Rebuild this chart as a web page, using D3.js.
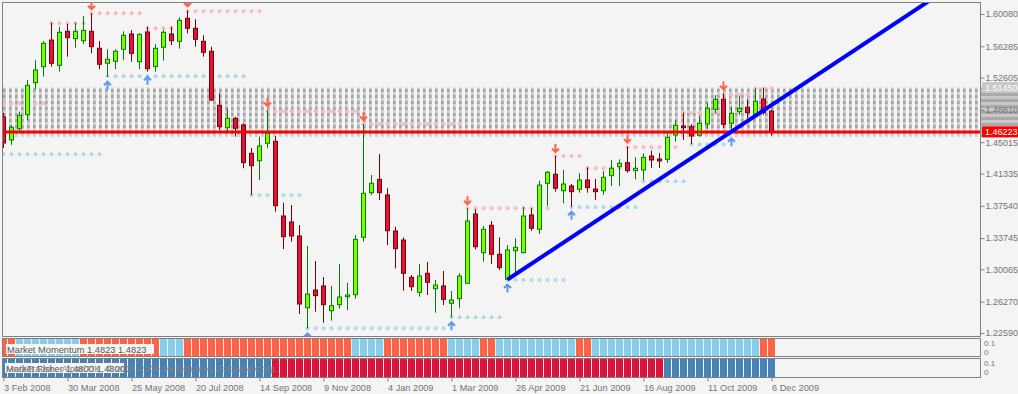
<!DOCTYPE html>
<html>
<head>
<meta charset="utf-8">
<script src="https://cdn.jsdelivr.net/npm/d3@7"></script>
<style>
  body { margin: 0; background: #f4f4f4; }
  svg { display: block; font-family: "Liberation Sans", Arial, sans-serif; }
</style>
</head>
<body>
<div id="chart"></div>
<script>
// weekly EURUSD candles, 3 Feb 2008 .. 6 Dec 2009 (index = week)
const opens = [
  1.4798, 1.4527, 1.4660, 1.4825, 1.5201, 1.5389, 1.5702, 1.5405, 1.5805, 1.5718,
  1.5694, 1.5805, 1.5605, 1.5429, 1.5452, 1.5593, 1.5773, 1.5447, 1.5797, 1.5389,
  1.5617, 1.5773, 1.5687, 1.5958, 1.5840, 1.5687, 1.5570, 1.4935, 1.4672, 1.4782,
  1.4704, 1.4371, 1.4284, 1.4489, 1.4512, 1.3634, 1.3564, 1.3399, 1.2556, 1.2764,
  1.2812, 1.2521, 1.2592, 1.2686, 1.2709, 1.3384, 1.3908, 1.4065, 1.3881, 1.3458,
  1.3352, 1.2914, 1.2737, 1.2961, 1.2780, 1.2812, 1.2608, 1.2662, 1.2843, 1.3658,
  1.3203, 1.3525, 1.3184, 1.2890, 1.3226, 1.3203, 1.3646, 1.3478, 1.4018, 1.4124,
  1.3931, 1.3987, 1.3948, 1.4057, 1.3951, 1.3931, 1.4108, 1.4214, 1.4261, 1.4167,
  1.4175, 1.4339, 1.4304, 1.4300, 1.4586, 1.4692, 1.4684, 1.4583, 1.4715, 1.4888,
  1.5006, 1.4724, 1.4860, 1.4912, 1.4833, 1.5009, 1.4868
];
const highs = [
  1.4845, 1.4704, 1.4860, 1.5232, 1.5467, 1.5691, 1.5906, 1.5859, 1.5891, 1.5906,
  1.5985, 1.6016, 1.5691, 1.5593, 1.5593, 1.5805, 1.5820, 1.5781, 1.5859, 1.5655,
  1.5820, 1.5859, 1.5969, 1.6050, 1.5946, 1.5758, 1.5624, 1.5076, 1.4900, 1.4801,
  1.4724, 1.4433, 1.4566, 1.4880, 1.4574, 1.3790, 1.3763, 1.3528, 1.3282, 1.3105,
  1.2917, 1.2812, 1.3070, 1.2850, 1.3411, 1.4715, 1.4116, 1.4363, 1.3960, 1.3508,
  1.3384, 1.2941, 1.3070, 1.3094, 1.2882, 1.2988, 1.2753, 1.2961, 1.3725, 1.3715,
  1.3517, 1.3575, 1.3384, 1.3293, 1.3372, 1.3743, 1.3725, 1.4049, 1.4163, 1.4339,
  1.4175, 1.4010, 1.4136, 1.4206, 1.4069, 1.4163, 1.4292, 1.4300, 1.4449, 1.4324,
  1.4371, 1.4402, 1.4375, 1.4625, 1.4762, 1.4848, 1.4715, 1.4809, 1.4966, 1.5056,
  1.5076, 1.4919, 1.5044, 1.5006, 1.5135, 1.5135, 1.4880
];
const lows = [
  1.4433, 1.4469, 1.4606, 1.4762, 1.5123, 1.5271, 1.5389, 1.5330, 1.5506, 1.5612,
  1.5655, 1.5546, 1.5358, 1.5271, 1.5358, 1.5467, 1.5447, 1.5358, 1.5330, 1.5330,
  1.5459, 1.5644, 1.5600, 1.5781, 1.5624, 1.5506, 1.4986, 1.4645, 1.4613, 1.4566,
  1.4195, 1.3881, 1.4057, 1.4430, 1.3685, 1.3246, 1.3332, 1.2482, 1.2314, 1.2509,
  1.2380, 1.2404, 1.2545, 1.2529, 1.2662, 1.3332, 1.3881, 1.3822, 1.3293, 1.3019,
  1.2756, 1.2753, 1.2686, 1.2706, 1.2498, 1.2588, 1.2444, 1.2549, 1.2835, 1.3243,
  1.3097, 1.3070, 1.3000, 1.2887, 1.2961, 1.3195, 1.3458, 1.3423, 1.3752, 1.3920,
  1.3783, 1.3743, 1.3908, 1.3908, 1.3822, 1.3884, 1.3987, 1.3987, 1.4143, 1.4065,
  1.4057, 1.4198, 1.4198, 1.4257, 1.4507, 1.4527, 1.4480, 1.4566, 1.4657, 1.4841,
  1.4665, 1.4606, 1.4821, 1.4782, 1.4801, 1.4821, 1.4578
];
const closes = [
  1.4492, 1.4677, 1.4818, 1.5170, 1.5350, 1.5664, 1.5429, 1.5793, 1.5730, 1.5805,
  1.5816, 1.5624, 1.5417, 1.5476, 1.5570, 1.5758, 1.5546, 1.5769, 1.5365, 1.5605,
  1.5793, 1.5694, 1.5934, 1.5840, 1.5711, 1.5558, 1.4997, 1.4684, 1.4782, 1.4665,
  1.4261, 1.4225, 1.4457, 1.4606, 1.3755, 1.3391, 1.3399, 1.2600, 1.2717, 1.2698,
  1.2592, 1.2580, 1.2682, 1.2706, 1.3360, 1.3901, 1.4018, 1.3908, 1.3461, 1.3250,
  1.2961, 1.2803, 1.2929, 1.2855, 1.2823, 1.2655, 1.2647, 1.2929, 1.3575, 1.3273,
  1.3478, 1.3184, 1.3027, 1.3235, 1.3266, 1.3634, 1.3490, 1.3998, 1.4148, 1.3960,
  1.4010, 1.3920, 1.4057, 1.3967, 1.3920, 1.4089, 1.4195, 1.4253, 1.4167, 1.4195,
  1.4324, 1.4292, 1.4281, 1.4559, 1.4700, 1.4672, 1.4574, 1.4724, 1.4900, 1.5006,
  1.4712, 1.4841, 1.4900, 1.4848, 1.4982, 1.4848, 1.46223
];

// fractal levels [first week, last week, price]
const resistance = [
  [0, 5, 1.4959], [6, 10, 1.5899], [11, 17, 1.6016], [18, 22, 1.5840], [23, 32, 1.6040],
  [33, 44, 1.4865], [45, 57, 1.4715], [58, 68, 1.3725], [69, 72, 1.4339], [73, 77, 1.4195],
  [78, 84, 1.4442], [85, 89, 1.4845], [90, 93, 1.5056], [94, 96, 1.5135]
];
const support = [
  [0, 12, 1.4359], [13, 30, 1.5276], [31, 37, 1.3877], [38, 55, 1.2314], [56, 62, 1.2444],
  [63, 70, 1.2882], [71, 79, 1.3736], [80, 85, 1.4042], [86, 90, 1.4477]
];
const downArrows = [11, 23, 33, 45, 58, 69, 78, 90];
const upArrows = [13, 18, 38, 56, 63, 71, 91];

// trend line anchors (weeks, prices) and objects
const trendWeeks = [63, 91];
const trendPrices = [1.2887, 1.4627];
const band = [1.4563, 1.5145];
const lastPrice = 1.46223;

// sub windows: 1 = tomato / crimson, 0 = skyblue / steelblue
const momentum = [
  1, 1, 0, 0, 0, 0, 0, 0, 0, 0,
  1, 1, 1, 1, 1, 1, 1, 1, 1, 1,
  0, 0, 0, 1, 1, 1, 1, 1, 1, 1,
  1, 1, 1, 1, 1, 1, 1, 1, 1, 1,
  1, 1, 1, 1, 0, 0, 0, 0, 1, 1,
  1, 1, 1, 1, 1, 1, 0, 0, 0, 0,
  1, 1, 0, 0, 0, 0, 0, 0, 0, 0,
  0, 0, 1, 1, 0, 0, 0, 0, 0, 0,
  0, 0, 0, 0, 0, 0, 0, 0, 0, 0,
  0, 0, 0, 0, 0, 1, 1
];
const fisher = [
  0, 0, 0, 0, 0, 0, 0, 0, 0, 0,
  0, 0, 0, 0, 0, 0, 0, 0, 0, 0,
  0, 0, 0, 0, 0, 0, 0, 0, 0, 0,
  0, 0, 0, 0, 1, 1, 1, 1, 1, 1,
  1, 1, 1, 1, 1, 1, 1, 1, 1, 1,
  1, 1, 1, 1, 1, 1, 1, 1, 1, 1,
  1, 1, 1, 1, 1, 1, 1, 1, 1, 1,
  1, 1, 1, 1, 1, 1, 1, 1, 1, 1,
  1, 1, 1, 0, 0, 0, 0, 0, 0, 0,
  0, 0, 0, 0, 0, 0, 0
];

const yTicks = [1.60080, 1.56285, 1.52605, 1.48810, 1.45015, 1.41335, 1.37540, 1.33745, 1.30065, 1.26270, 1.22590];
const xTickWeeks = [0, 8, 16, 24, 32, 40, 48, 56, 64, 72, 80, 88, 96];
const xTickLabels = ["3 Feb 2008", "30 Mar 2008", "25 May 2008", "20 Jul 2008", "14 Sep 2008", "9 Nov 2008",
  "4 Jan 2009", "1 Mar 2009", "26 Apr 2009", "21 Jun 2009", "16 Aug 2009", "11 Oct 2009", "6 Dec 2009"];

const fullwidth = 1018;
const fullheight = 394;
const plotLeft = 2, plotRight = 980, plotTop = 2, plotBottom = 336;
const frameColor = "#808080", axisText = "#737373";

const x = d3.scaleLinear().domain([0, 96]).range([3.5, 771.5]);
const y = d3.scaleLinear().domain([1.22590, 1.60080]).range([333, 14]);

const svg = d3.select("#chart")
  .append("svg")
  .attr("width", fullwidth)
  .attr("height", fullheight);

svg.append("rect").attr("width", fullwidth).attr("height", fullheight).attr("fill", "#f4f4f4");

const defs = svg.append("defs");
defs.append("clipPath").attr("id", "plot-clip")
  .append("rect")
  .attr("x", plotLeft).attr("y", plotTop)
  .attr("width", plotRight - plotLeft).attr("height", plotBottom - plotTop);

// dotted band fill
const hatch = defs.append("pattern").attr("id", "band-hatch")
  .attr("patternUnits", "userSpaceOnUse")
  .attr("x", 3).attr("y", 89).attr("width", 6).attr("height", 6);
hatch.append("rect").attr("width", 2.7).attr("height", 3).attr("fill", "#a4a4a4");
hatch.append("rect").attr("y", 3).attr("width", 2.7).attr("height", 3).attr("fill", "#cdcdcd");

const stripes = defs.append("pattern").attr("id", "band-stripes")
  .attr("patternUnits", "userSpaceOnUse")
  .attr("x", 0).attr("y", 93).attr("width", 40).attr("height", 6);
stripes.append("rect").attr("width", 40).attr("height", 3).attr("fill", "#a9a9a9");
stripes.append("rect").attr("y", 3).attr("width", 40).attr("height", 3).attr("fill", "#c8c8c8");

const main = svg.append("g").attr("clip-path", "url(#plot-clip)");

// Band
main.append("rect")
  .attr("x", plotLeft)
  .attr("width", plotRight - plotLeft)
  .attr("y", y(band[1]))
  .attr("height", y(band[0]) - y(band[1]))
  .attr("fill", "url(#band-hatch)");

// Fractal level dots
const drawLevels = (levels, color) => {
  levels.forEach(([from, to, level]) => {
    main.append("g").selectAll("circle")
      .data(d3.range(from, to + 1))
      .enter().append("circle")
      .attr("cx", d => x(d))
      .attr("cy", y(level))
      .attr("r", 2)
      .attr("fill", color);
  });
};
drawLevels(resistance, "#ffb6c1");
drawLevels(support, "#add8e6");

// Candles
const candles = opens.map((o, i) => ({ i, o, h: highs[i], l: lows[i], c: closes[i], up: closes[i] >= o }));

main.append("g").selectAll("line")
  .data(candles)
  .enter().append("line")
  .attr("x1", d => x(d.i)).attr("x2", d => x(d.i))
  .attr("y1", d => y(d.h)).attr("y2", d => y(d.l))
  .attr("stroke", d => d.up ? "#008000" : "#800000");

main.append("g").selectAll("rect")
  .data(candles)
  .enter().append("rect")
  .attr("x", d => x(d.i) - 2)
  .attr("y", d => y(Math.max(d.o, d.c)))
  .attr("width", 4)
  .attr("height", d => Math.max(0.6, Math.abs(y(d.o) - y(d.c))))
  .attr("fill", d => d.up ? "#7cfc00" : "#dc143c")
  .attr("stroke", d => d.up ? "#008000" : "#800000");

// Current price line
main.append("line")
  .attr("x1", plotLeft).attr("x2", plotRight)
  .attr("y1", y(lastPrice)).attr("y2", y(lastPrice))
  .attr("stroke", "#ff0000")
  .attr("stroke-width", 3);

// Trend line (ray to the right)
const slope = (trendPrices[1] - trendPrices[0]) / (trendWeeks[1] - trendWeeks[0]);
const rayEnd = 130;
main.append("line")
  .attr("x1", x(trendWeeks[0])).attr("y1", y(trendPrices[0]))
  .attr("x2", x(rayEnd)).attr("y2", y(trendPrices[0] + slope * (rayEnd - trendWeeks[0])))
  .attr("stroke", "#0000ff")
  .attr("stroke-width", 4);

// Fractal arrows
main.append("g").selectAll("path")
  .data(downArrows)
  .enter().append("path")
  .attr("d", i => {
    const cx = x(i), tip = y(highs[i]) - 4;
    return `M${cx},${tip - 8}V${tip}M${cx - 3.5},${tip - 3.5}L${cx},${tip}L${cx + 3.5},${tip - 3.5}`;
  })
  .attr("fill", "none").attr("stroke", "#ff6347").attr("stroke-width", 2);

main.append("g").selectAll("path")
  .data(upArrows)
  .enter().append("path")
  .attr("d", i => {
    const cx = x(i), tip = y(lows[i]) + 5;
    return `M${cx},${tip + 8}V${tip}M${cx - 3.5},${tip + 3.5}L${cx},${tip}L${cx + 3.5},${tip + 3.5}`;
  })
  .attr("fill", "none").attr("stroke", "#6495ed").attr("stroke-width", 2);

// Frame of main window
svg.append("rect")
  .attr("x", plotLeft + 0.5).attr("y", plotTop + 0.5)
  .attr("width", plotRight - plotLeft).attr("height", plotBottom - plotTop)
  .attr("fill", "none").attr("stroke", frameColor);

// Band continued on the price scale
svg.append("rect")
  .attr("x", plotRight + 1).attr("width", fullwidth - plotRight - 1)
  .attr("y", y(band[1]))
  .attr("height", y(band[0]) - y(band[1]))
  .attr("fill", "url(#band-stripes)");

// Price axis
const yAxis = svg.append("g")
  .attr("transform", `translate(${plotRight + 0.5},0)`)
  .call(d3.axisRight(y).tickValues(yTicks).tickSize(4).tickPadding(1).tickFormat(d3.format(".5f")));
yAxis.select(".domain").remove();
yAxis.selectAll("line").attr("stroke", frameColor);
yAxis.selectAll("text").attr("fill", axisText).style("font-size", "9px").style("font-family", "Liberation Sans, Arial, sans-serif");

// Price labels for band top and last price
const priceTag = (price, fill, color) => {
  const g = svg.append("g").attr("transform", `translate(${plotRight + 2},${y(price)})`);
  g.append("rect").attr("x", 0).attr("y", -5.5).attr("width", fullwidth - plotRight - 2).attr("height", 11).attr("fill", fill);
  g.append("text").attr("x", 3).attr("y", 3.5).attr("fill", color).style("font-size", "9px").text(d3.format(".5f")(price));
};
priceTag(band[1], "#c8c8c8", "#ffffff");
priceTag(lastPrice, "#ff0000", "#ffffff");

// Sub windows
const colorsMomentum = ["#87ceeb", "#ff6347"];
const colorsFisher = ["#4682b4", "#dc143c"];
const panels = [
  { id: "momentum", top: 338, bottom: 356, values: momentum, colors: colorsMomentum },
  { id: "fisher", top: 358, bottom: 377, values: fisher, colors: colorsFisher }
];

panels.forEach(p => {
  defs.append("clipPath").attr("id", `clip-${p.id}`)
    .append("rect")
    .attr("x", plotLeft + 1).attr("y", p.top)
    .attr("width", plotRight - plotLeft - 1).attr("height", p.bottom - p.top);

  svg.append("g").attr("clip-path", `url(#clip-${p.id})`)
    .selectAll("rect")
    .data(p.values)
    .enter().append("rect")
    .attr("x", (d, i) => x(i) - 3.5)
    .attr("y", p.top + 1)
    .attr("width", 7)
    .attr("height", p.bottom - p.top - 1)
    .attr("fill", d => p.colors[d]);

  svg.append("rect")
    .attr("x", plotLeft + 0.5).attr("y", p.top + 0.5)
    .attr("width", plotRight - plotLeft).attr("height", p.bottom - p.top)
    .attr("fill", "none").attr("stroke", frameColor);

  // 0.1 / 0 scale
  svg.append("text").attr("x", 984).attr("y", p.top + 8).attr("fill", axisText).style("font-size", "8px").text("0.1");
  svg.append("text").attr("x", 984).attr("y", p.top + 16.5).attr("fill", axisText).style("font-size", "8px").text("0");
});

// Indicator labels
svg.append("rect").attr("x", 6).attr("y", 344).attr("width", 148).attr("height", 10).attr("fill", "#f6f6f6");
svg.append("text").attr("x", 7).attr("y", 352.5).attr("fill", "#555").style("font-size", "9.3px")
  .text("Market Momentum 1.4823 1.4823");

svg.append("rect").attr("x", 5).attr("y", 363).attr("width", 119).attr("height", 10).attr("fill", "#f6f6f6");
svg.append("text").attr("x", 6).attr("y", 371.5).attr("fill", "#555").style("font-size", "9.3px")
  .text("Market Fisher 1.4800 1.4800");
svg.append("text").attr("x", 6).attr("y", 371.5).attr("fill", "#808080").style("font-size", "9.3px")
  .text("MetaTrader - Alpari UK, © 2001-2009 MetaQuotes Software Corp.");

// Time axis
const xAxis = svg.append("g")
  .attr("transform", `translate(0,${377.5})`)
  .call(d3.axisBottom(x).tickValues(xTickWeeks).tickSize(4).tickPadding(3).tickFormat((d, k) => xTickLabels[k]));
xAxis.select(".domain").remove();
xAxis.selectAll("line").attr("stroke", frameColor);
xAxis.selectAll("text")
  .attr("fill", axisText)
  .attr("text-anchor", "start")
  .attr("dx", 0)
  .style("font-size", "9.2px")
  .style("font-family", "Liberation Sans, Arial, sans-serif");
</script>
</body>
</html>
